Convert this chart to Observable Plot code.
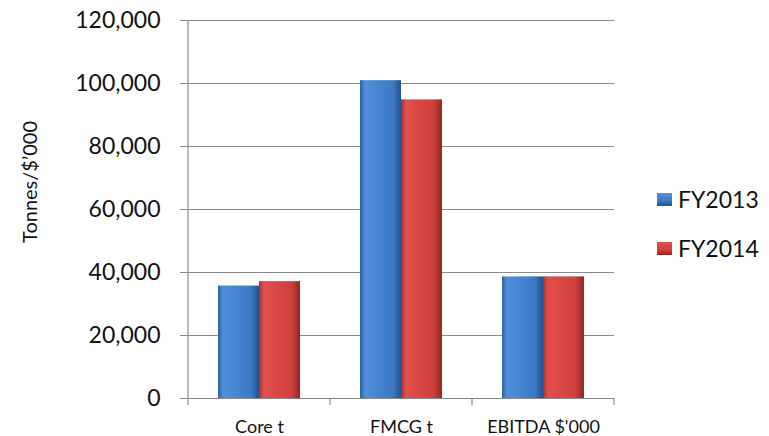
<!DOCTYPE html>
<html>
<head>
<meta charset="utf-8">
<script src="https://cdn.jsdelivr.net/npm/d3@7"></script>
<script src="https://cdn.jsdelivr.net/npm/@observablehq/plot@0.6"></script>
<style>
  html, body { margin: 0; padding: 0; background: #fff; }
  #wrap { position: relative; width: 769px; height: 436px; font-family: Lato, "Noto Sans", sans-serif; }
  #wrap svg { position: absolute; left: 0; top: 0; }
  .legend .item { position: absolute; left: 657px; display: flex; align-items: center; height: 26px; line-height: 26px; font-size: 23px; color: #111; }
  .legend .sw { width: 15px; height: 13px; margin-right: 6px; }
</style>
</head>
<body>
<div id="wrap"></div>
<script>
const categories = ["Core t", "FMCG t", "EBITDA $'000"];
const series = ["FY2013", "FY2014"];
const fy2013 = [35700, 100900, 38600];
const fy2014 = [37100, 94800, 38600];
const yTicks = [0, 20000, 40000, 60000, 80000, 100000, 120000];
const yLabel = "Tonnes/$\u2019000";
const seriesColors = {
  FY2013: ["#2d5f9e", "#4f8fdb", "#3b79c6", "#23528c"],
  FY2014: ["#a3302c", "#e2504c", "#cf3f3b", "#922622"]
};

const data = [];
categories.forEach((c, i) => {
  data.push({cat: c, series: "FY2013", value: fy2013[i]});
  data.push({cat: c, series: "FY2014", value: fy2014[i]});
});

const gradId = s => "grad-" + s;
const gridColor = "#8a8a8a";

// Rendered once over the whole frame: gradient defs, left axis line, category boundary ticks, y title.
const frameRender = (index, scales, values, dimensions) => {
  const {width, height, marginLeft, marginRight, marginTop, marginBottom} = dimensions;
  const g = d3.create("svg:g");
  const defs = g.append("defs");
  for (const s of series) {
    const c = seriesColors[s];
    const lg = defs.append("linearGradient").attr("id", gradId(s)).attr("x1", "0").attr("x2", "1").attr("y1", "0").attr("y2", "0");
    lg.append("stop").attr("offset", "0").attr("stop-color", c[0]);
    lg.append("stop").attr("offset", "0.12").attr("stop-color", c[1]);
    lg.append("stop").attr("offset", "0.8").attr("stop-color", c[2]);
    lg.append("stop").attr("offset", "1").attr("stop-color", c[3]);
  }
  const y = scales.y;
  const fx = scales.fx;
  const y0 = y(0), yTop = y(yTicks[yTicks.length - 1]);
  const lines = g.append("g").attr("stroke", gridColor).attr("stroke-width", 1.2);
  let edges;
  if (fx && fx.bandwidth) {
    edges = categories.map(c => fx(c)).concat([fx(categories[categories.length - 1]) + fx.bandwidth()]);
  } else {
    const sc = d3.scaleBand(categories, [marginLeft, width - marginRight]).padding(0);
    edges = categories.map(c => sc(c)).concat([sc(categories[categories.length - 1]) + sc.bandwidth()]);
  }
  lines.append("line").attr("x1", edges[0]).attr("x2", edges[0]).attr("y1", y0).attr("y2", yTop);
  for (const e of edges) {
    lines.append("line").attr("x1", e).attr("x2", e).attr("y1", y0).attr("y2", y0 + 7);
  }
  g.append("text")
    .attr("transform", `translate(${marginLeft - 151},${y(60000) - 27}) rotate(-90)`)
    .attr("text-anchor", "middle")
    .attr("font-size", 20)
    .attr("fill", "#111")
    .text(yLabel);
  return g.node();
};

const chart = Plot.plot({
  width: 769,
  height: 436,
  marginLeft: 188,
  marginRight: 155,
  marginTop: 20,
  marginBottom: 38,
  style: {fontFamily: "Lato, 'Noto Sans', sans-serif", color: "#111", background: "transparent"},
  fx: {domain: categories, padding: 0, label: null},
  x: {domain: series, paddingInner: 0, paddingOuter: 0.71, axis: null},
  y: {domain: [0, 120000], label: null},
  marks: [
    Plot.gridY(yTicks, {stroke: gridColor, strokeOpacity: 1, strokeWidth: 1.2}),
    Plot.ruleY([0], {stroke: gridColor, strokeWidth: 1.2}),
    Plot.barY(data, {fx: "cat", x: "series", y: "value", fill: d => `url(#${gradId(d.series)})`}),
    Plot.frame({stroke: "none", facet: "super", render: frameRender}),
    Plot.axisY({ticks: yTicks, tickFormat: d3.format(","), tickSize: 8, tickPadding: 20, fontSize: 23, stroke: gridColor, label: null}),
    Plot.axisFx({anchor: "bottom", tickSize: 0, tickPadding: 22, fontSize: 18, label: null})
  ]
});

document.getElementById("wrap").appendChild(chart);

const legend = d3.select("#wrap").append("div").attr("class", "legend");
const legendTops = [186, 235];
series.forEach((s, i) => {
  const c = seriesColors[s];
  const it = legend.append("div").attr("class", "item").style("top", legendTops[i] + "px");
  it.append("div").attr("class", "sw").style("background", `linear-gradient(to bottom, ${c[1]}, ${c[2]} 60%, ${c[3]})`);
  it.append("span").text(s);
});
</script>
</body>
</html>
